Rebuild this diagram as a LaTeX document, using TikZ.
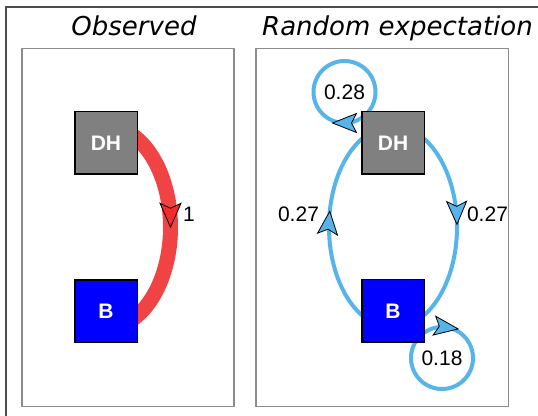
\documentclass[tikz,border=0pt]{standalone}
\usepackage{fontspec}
\setmainfont{Liberation Sans}
\newfontfamily\titlefont{DejaVu Sans}
\usetikzlibrary{calc,decorations.markings,backgrounds}
\definecolor{skyb}{HTML}{56B4E9}
\definecolor{redarc}{HTML}{F04444}
\definecolor{redhead}{HTML}{F52A2A}
\definecolor{boxgray}{HTML}{808080}
\definecolor{boxblue}{HTML}{0000FF}
\definecolor{framegray}{HTML}{4D4D4D}
\definecolor{panelgray}{HTML}{8C8C8C}
\begin{document}
\begin{tikzpicture}[x=1pt,y=1pt,
  statebox/.style={draw=black, line width=1.5pt, minimum size=62.5pt, inner sep=0pt, text=white, font=\fontsize{21}{25}\selectfont\bfseries},
  titletext/.style={font=\titlefont\itshape\fontsize{26}{31}\selectfont, inner sep=0pt, anchor=base},
  numlabel/.style={font=\fontsize{21}{25}\selectfont, inner sep=0pt},
  panel/.style={draw=panelgray, line width=1.3pt},
  bluearc/.style={draw=skyb, line width=4pt},
  redarcline/.style={draw=redarc, line width=15pt},
  bluehead/.style={postaction={decorate}, decoration={markings, mark=at position #1 with {\filldraw[fill=skyb, draw=black, line width=0.8pt] (0pt,0pt) -- (-23pt,10pt) -- (-18pt,0pt) -- (-23pt,-10pt) -- cycle;}}},
  redheadmark/.style={postaction={decorate}, decoration={markings, mark=at position #1 with {\filldraw[fill=redhead, draw=black, line width=0.8pt] (0pt,0pt) -- (-24pt,10.5pt) -- (-19pt,0pt) -- (-24pt,-10.5pt) -- cycle;}}},
  loophead/.style={postaction={decorate}, decoration={markings, mark=at position #1 with {\filldraw[fill=skyb, draw=black, line width=0.8pt] (12pt,0pt) -- (-12pt,9.5pt) -- (-7pt,0pt) -- (-12pt,-9.5pt) -- cycle;}}}
]
\useasboundingbox (0,0) rectangle (538,415);
% frame and panels
\draw[draw=framegray, line width=2pt] (6,-5) -- (6,407.5) -- (545,407.5);
\draw[panel] (22,8.5) rectangle (234,366.5);
\draw[panel] (256,8.5) rectangle (508.5,366.5);
% titles
\node[titletext] (t1) at (134,379) {Observed};
\node[titletext] (t2) at (397.5,379) {Random expectation};
% nodes
\node[statebox, fill=boxgray] (DHL) at (106,272) {DH};
\node[statebox, fill=boxblue] (BL) at (106,103.5) {B};
\node[statebox, fill=boxgray] (DHR) at (393,272) {DH};
\node[statebox, fill=boxblue] (BR) at (393,104) {B};
\coordinate (mL) at ($(DHL)!0.5!(BL)$);
\coordinate (mR) at ($(DHR)!0.5!(BR)$);
\coordinate (lDH) at ($(DHR)+(-48.5,51)$);
\coordinate (lB) at ($(BR)+(49,-47)$);
\begin{pgfonlayer}{background}
\fill[white] (0,0) rectangle (538,415);
\draw[redarcline, redheadmark=0.5] ($(mL)+(0,101)$) arc[start angle=90, end angle=-90, x radius=64.5, y radius=101];
\draw[bluearc, bluehead=0.49] ($(mR)+(0,101)$) arc[start angle=90, end angle=-90, x radius=64, y radius=101];
\draw[bluearc, bluehead=0.56] ($(mR)+(0,-101)$) arc[start angle=270, end angle=90, x radius=64, y radius=101];
\draw[bluearc, loophead=0.5] ($(lDH)+(0,31)$) arc[start angle=90, end angle=-270, radius=31];
\draw[bluearc, loophead=0.022] ($(lB)+(0,31)$) arc[start angle=90, end angle=-270, radius=31];
\end{pgfonlayer}
% labels
\node[numlabel] (n1) at (189,200.5) {1};
\node[numlabel] (n28) at (lDH) {0.28};
\node[numlabel] (n27r) at (487.5,201) {0.27};
\node[numlabel] (n27l) at (298.5,201) {0.27};
\node[numlabel] (n18) at (lB) {0.18};
\end{tikzpicture}
\end{document}
